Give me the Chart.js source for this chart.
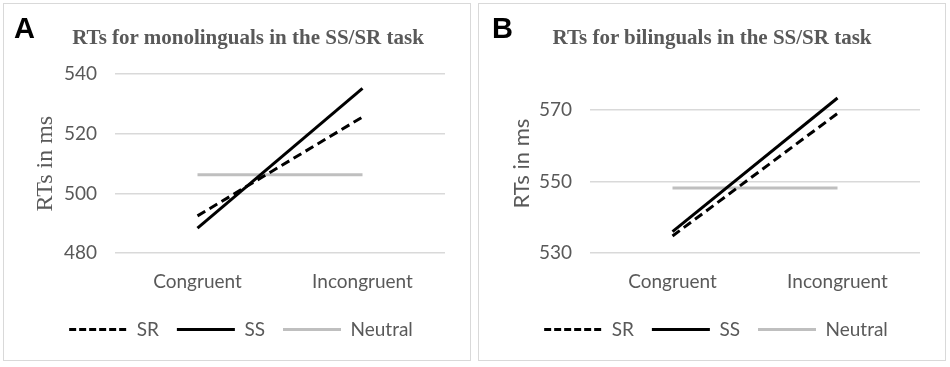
<!DOCTYPE html>
<html>
<head>
    <meta charset="utf-8">
    <title>RTs in the SS/SR task</title>
    <script src="https://cdn.jsdelivr.net/npm/chart.js@4.4.0/dist/chart.umd.min.js"></script>
    <style>
        body { margin: 0; background: #fff; width: 950px; height: 367px; position: relative; overflow: hidden; }
        .panel { position: absolute; top: 3px; width: 466px; height: 356px; border: 1px solid #d9d9d9; }
        #panelA { left: 3px; }
        #panelB { left: 478px; }
        .tag { position: absolute; top: 8px; font: bold 29px "Liberation Sans", Arial, sans-serif; color: #000; }
        #panelA .tag { left: 10px; }
        #panelB .tag { left: 13px; }
        .title { position: absolute; width: 440px; text-align: center; line-height: 24px; top: 25px;
                 font: bold 21px "Liberation Serif", "Times New Roman", serif; color: #595959; }
        #titleA { left: 28px; }
        #titleB { left: 492px; }
        canvas { position: absolute; left: 0; top: 0; }
    </style>
</head>
<body>
    <div class="panel" id="panelA"><canvas id="chartA" width="466" height="356"></canvas><div class="tag">A</div></div>
    <div class="panel" id="panelB"><canvas id="chartB" width="466" height="356"></canvas><div class="tag">B</div></div>
    <div class="title" id="titleA">RTs for monolinguals in the SS/SR task</div>
    <div class="title" id="titleB">RTs for bilinguals in the SS/SR task</div>

    <script>
        const categories = ['Congruent', 'Incongruent'];

        // monolinguals
        const monoSR = [492.5, 525.6];
        const monoSS = [488.4, 535.2];
        const monoNeutral = [506.3, 506.3];
        const monoTicks = [480, 500, 520, 540];
        const monoMax = 540;

        // bilinguals
        const biSR = [534.8, 569.0];
        const biSS = [536.0, 573.3];
        const biNeutral = [548.2, 548.2];
        const biTicks = [530, 550, 570];
        const biMax = 580;

        const grey = '#595959';
        const sans = 'Lato, "Open Sans", sans-serif';
        const serif = '"Liberation Serif", "Times New Roman", serif';

        // legend swatches keep the dash of their dataset
        function dashedLabels(chart) {
            const items = Chart.defaults.plugins.legend.labels.generateLabels(chart);
            items.forEach(it => {
                const ds = chart.data.datasets[it.datasetIndex];
                it.lineDash = ds.legendDash || [];
            });
            return items;
        }

        function makeChart(id, sr, ss, neutral, ticks, yMax, yTitleFont, yTitlePad) {
            const ctx = document.getElementById(id).getContext('2d');
            return new Chart(ctx, {
                type: 'line',
                data: {
                    labels: categories,
                    datasets: [
                        { label: 'SR', data: sr, borderColor: '#000', backgroundColor: '#000', borderWidth: 3, borderDash: [9, 5], legendDash: [7, 3], pointRadius: 0, clip: false },
                        { label: 'SS', data: ss, borderColor: '#000', backgroundColor: '#000', borderWidth: 3, pointRadius: 0, clip: false },
                        { label: 'Neutral', data: neutral, borderColor: '#bfbfbf', backgroundColor: '#bfbfbf', borderWidth: 3, pointRadius: 0, clip: false }
                    ]
                },
                options: {
                    responsive: false,
                    animation: false,
                    layout: { padding: { left: 33, right: 25, top: 70, bottom: 11 } },
                    plugins: {
                        title: { display: false },
                        legend: {
                            position: 'bottom',
                            labels: {
                                color: grey,
                                font: { family: sans, size: 19 },
                                usePointStyle: true,
                                pointStyle: 'line',
                                pointStyleWidth: 58,
                                padding: 18,
                                generateLabels: dashedLabels
                            }
                        },
                        tooltip: { enabled: false }
                    },
                    scales: {
                        x: {
                            offset: true,
                            grid: { display: false },
                            border: { display: false },
                            ticks: { color: grey, font: { family: sans, size: 19 }, padding: 9 }
                        },
                        y: {
                            min: ticks[0],
                            max: yMax,
                            afterBuildTicks: (scale) => { scale.ticks = ticks.map(v => ({ value: v })); },
                            afterFit: (scale) => { scale.width = 78; },
                            grid: { color: '#d9d9d9', lineWidth: 1.5, drawTicks: false },
                            border: { display: false },
                            ticks: { color: grey, font: { family: sans, size: 19 }, padding: 18 },
                            title: { display: true, text: 'RTs in ms', color: grey, font: yTitleFont, padding: { top: yTitlePad, bottom: 0 } }
                        }
                    }
                }
            });
        }

        makeChart('chartA', monoSR, monoSS, monoNeutral, monoTicks, monoMax, { family: serif, size: 24 }, -6);
        makeChart('chartB', biSR, biSS, biNeutral, biTicks, biMax, { family: sans, size: 22 }, -3);
    </script>
</body>
</html>
